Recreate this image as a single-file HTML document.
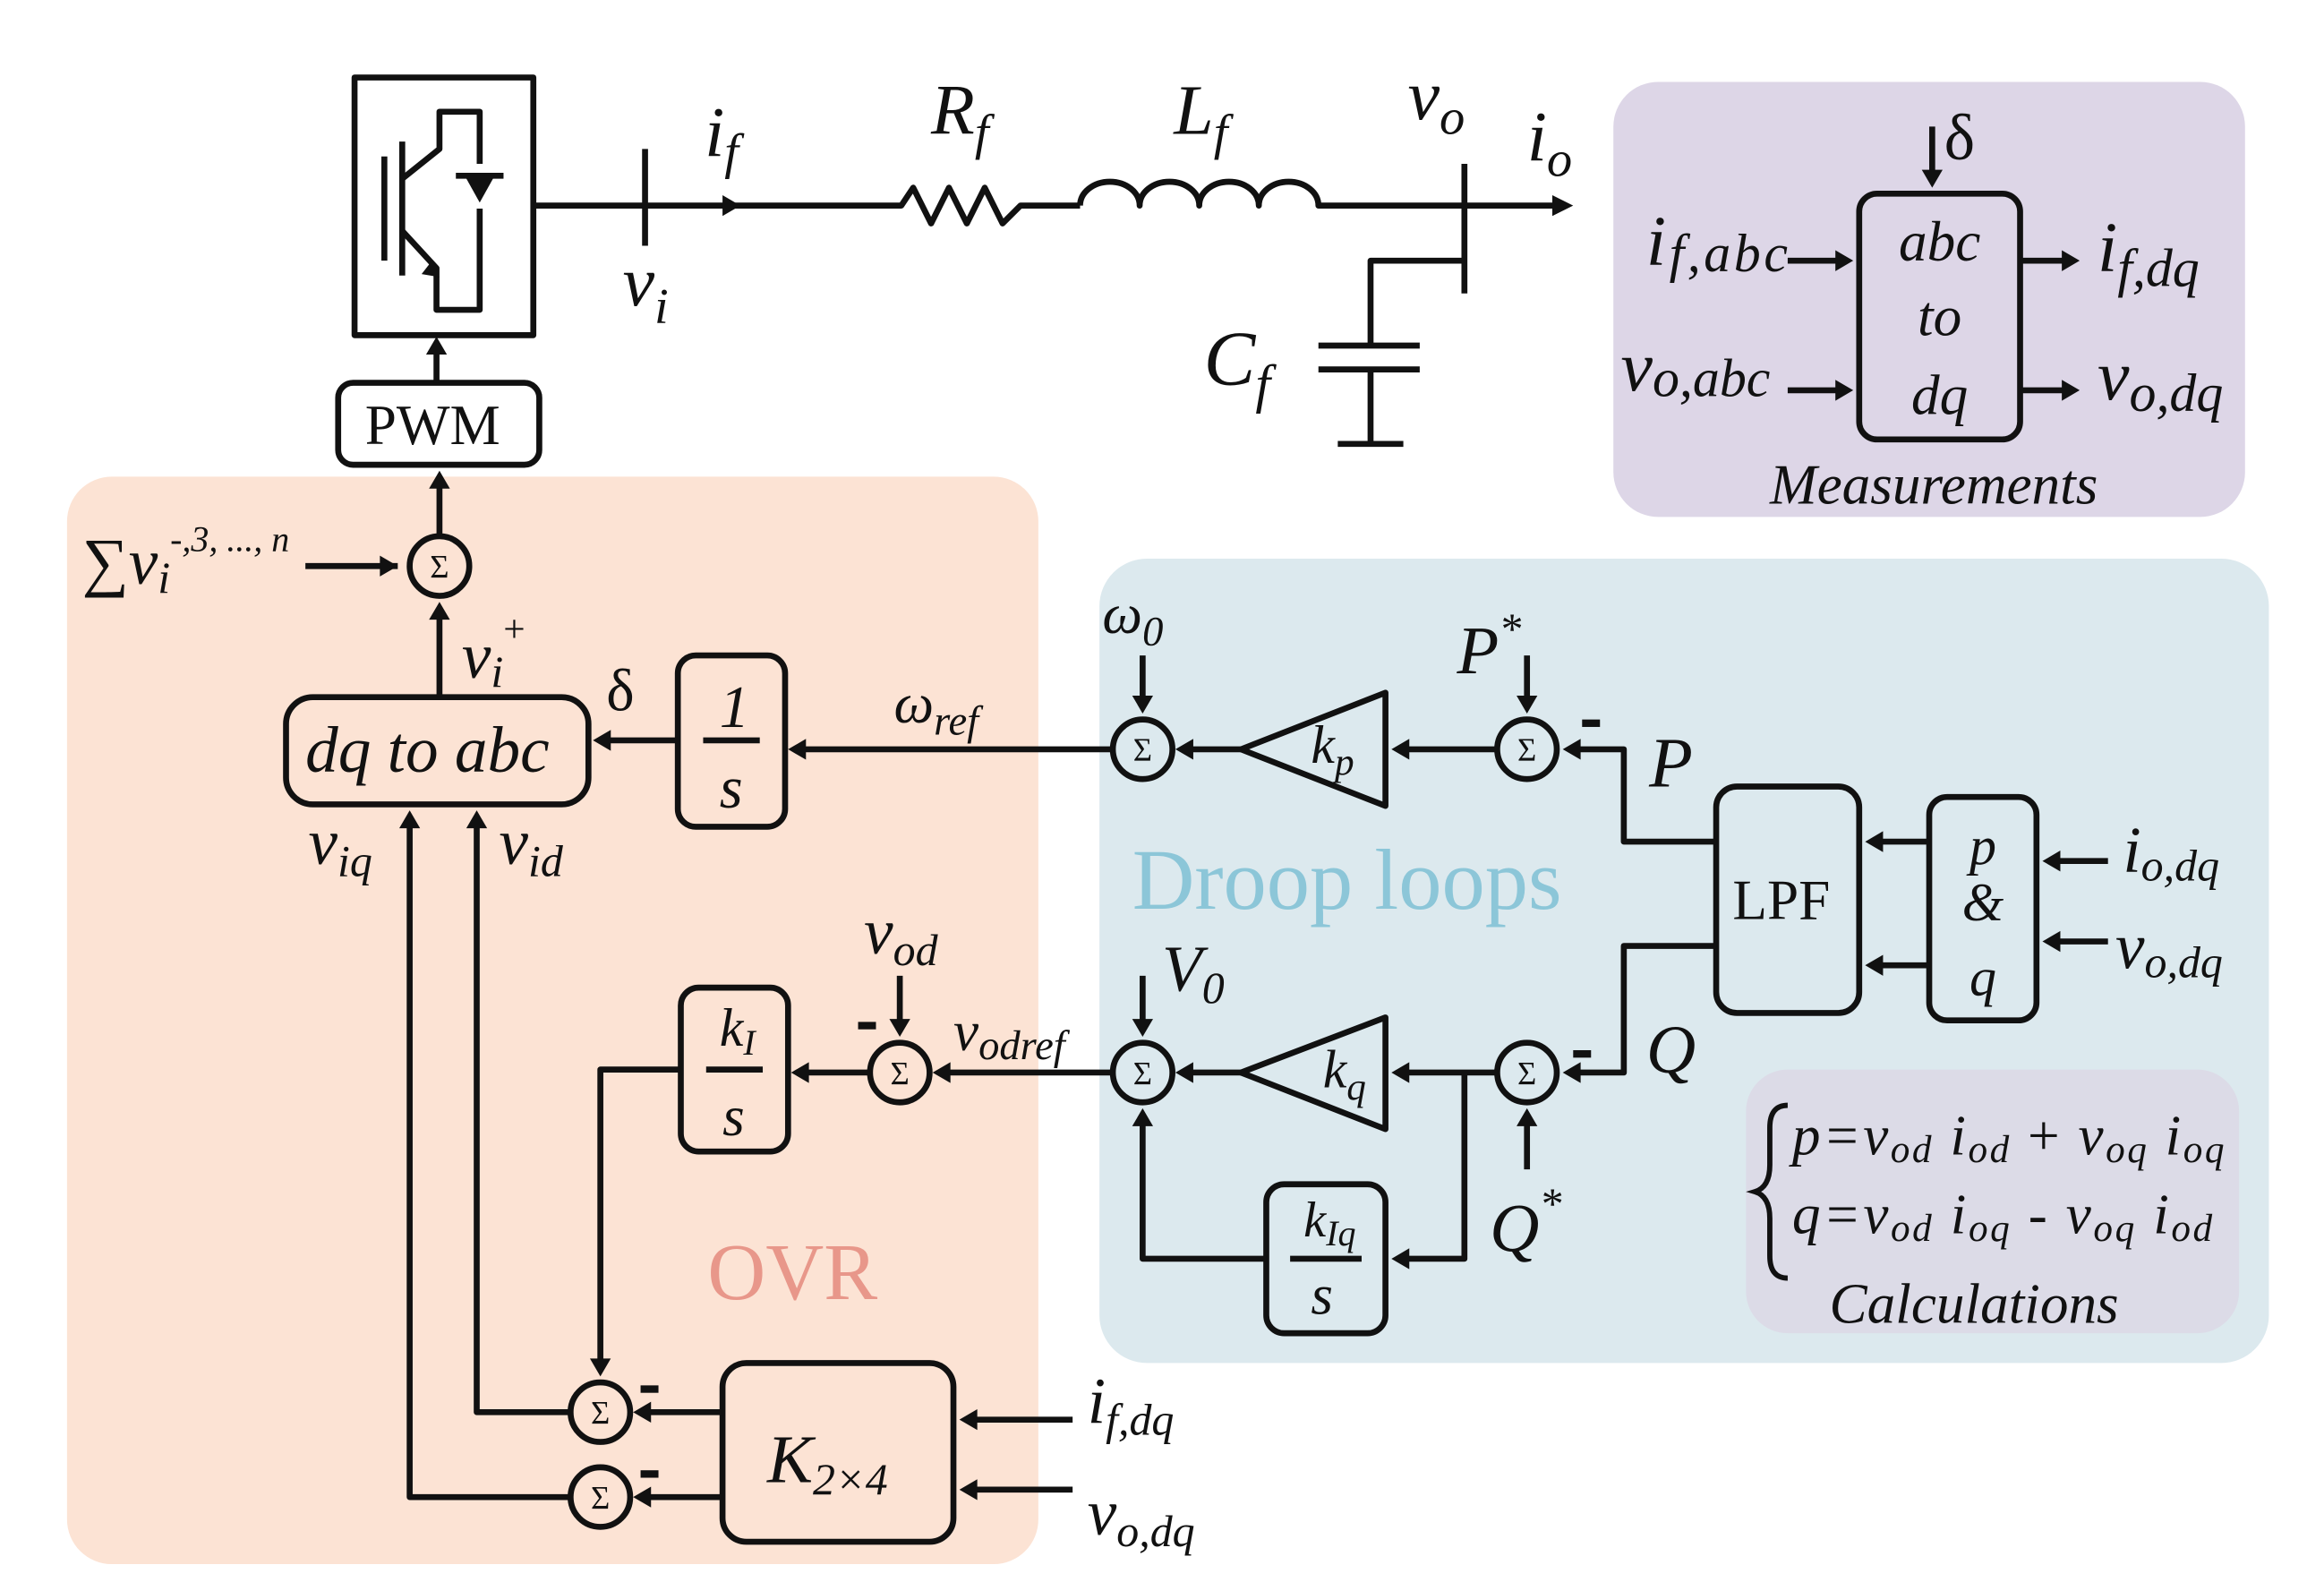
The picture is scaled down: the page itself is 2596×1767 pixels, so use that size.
<!DOCTYPE html>
<html><head><meta charset="utf-8"><style>
html,body{margin:0;padding:0;background:#fff}
svg{display:block}
text{font-family:"Liberation Serif",serif;fill:#111}
.i{font-style:italic}
</style></head><body>
<svg width="2596" height="1767" viewBox="0 0 1560 1062" preserveAspectRatio="none" xmlns="http://www.w3.org/2000/svg">
<!-- regions -->
<rect x="45" y="320" width="652" height="730" rx="30" fill="#fce3d4"/>
<rect x="738" y="375" width="785" height="540" rx="32" fill="#dce9ee"/>
<rect x="1083" y="55" width="424" height="292" rx="30" fill="#ddd6e7"/>
<rect x="1172" y="718" width="331" height="177" rx="28" fill="#dcdbe7"/>

<g stroke="#111" stroke-width="4" fill="none" stroke-linejoin="round">
<rect x="238" y="52" width="120" height="173"/>
<line x1="258" y1="105" x2="258" y2="175"/>
<line x1="270" y1="95" x2="270" y2="185"/>
<path d="M270,120 L295,100 L295,75 L322,75 L322,110"/>
<path d="M270,155 L293,180 L293,208 L322,208 L322,140"/>
<path d="M306,118 L338,118"/>
<rect x="227" y="257" width="135" height="55" rx="10"/>
<line x1="293" y1="257" x2="293" y2="232"/>
<path d="M358,138 L605,138 L613,126 L625,150 L637,126 L649,150 L661,126 L673,150 L685,138 L725,138"/>
<path d="M725,138 a20,16 0 0 1 40,0 a20,16 0 0 1 40,0 a20,16 0 0 1 40,0 a20,16 0 0 1 40,0 L985,138 L1045,138"/>
<line x1="433" y1="100" x2="433" y2="165"/>
<line x1="983" y1="110" x2="983" y2="197"/>
<path d="M983,175 L920,175 L920,232"/>
<line x1="885" y1="232" x2="953" y2="232"/>
<line x1="885" y1="248" x2="953" y2="248"/>
<path d="M920,248 L920,298"/>
<line x1="898" y1="298" x2="942" y2="298"/>
<rect x="1248" y="130" width="108" height="165" rx="12"/>
<line x1="1297" y1="85" x2="1297" y2="120"/>
<line x1="1200" y1="175" x2="1238" y2="175"/>
<line x1="1200" y1="262" x2="1238" y2="262"/>
<line x1="1356" y1="175" x2="1388" y2="175"/>
<line x1="1356" y1="262" x2="1388" y2="262"/>
<circle cx="295" cy="380" r="20"/>
<circle cx="767" cy="503" r="20"/>
<circle cx="1025" cy="503" r="20"/>
<circle cx="767" cy="720" r="20"/>
<circle cx="1025" cy="720" r="20"/>
<circle cx="604" cy="720" r="20"/>
<circle cx="403" cy="948" r="20"/>
<circle cx="403" cy="1005" r="20"/>
<rect x="192" y="468" width="203" height="72" rx="18"/>
<rect x="455" y="440" width="72" height="115" rx="12"/>
<line x1="472" y1="497" x2="510" y2="497"/>
<rect x="457" y="663" width="72" height="110" rx="12"/>
<line x1="474" y1="718" x2="512" y2="718"/>
<rect x="850" y="795" width="80" height="100" rx="12"/>
<line x1="866" y1="845" x2="914" y2="845"/>
<rect x="485" y="915" width="155" height="120" rx="16"/>
<rect x="1152" y="528" width="96" height="152" rx="14"/>
<rect x="1295" y="535" width="72" height="150" rx="12"/>
<path d="M833,503 L930,465 L930,541 Z"/>
<path d="M833,720 L930,683 L930,758 Z"/>
<line x1="295" y1="360" x2="295" y2="320"/>
<line x1="205" y1="380" x2="267" y2="380"/>
<line x1="295" y1="468" x2="295" y2="408"/>
<line x1="455" y1="497" x2="403" y2="497"/>
<line x1="747" y1="503" x2="535" y2="503"/>
<line x1="833" y1="503" x2="795" y2="503"/>
<line x1="1005" y1="503" x2="940" y2="503"/>
<line x1="767" y1="440" x2="767" y2="475"/>
<line x1="1025" y1="440" x2="1025" y2="475"/>
<path d="M1152,565 L1090,565 L1090,503 L1053,503"/>
<path d="M1152,635 L1090,635 L1090,720 L1053,720"/>
<line x1="1295" y1="565" x2="1258" y2="565"/>
<line x1="1295" y1="648" x2="1258" y2="648"/>
<line x1="1415" y1="578" x2="1377" y2="578"/>
<line x1="1415" y1="632" x2="1377" y2="632"/>
<line x1="1005" y1="720" x2="940" y2="720"/>
<line x1="833" y1="720" x2="795" y2="720"/>
<line x1="747" y1="720" x2="632" y2="720"/>
<line x1="584" y1="720" x2="537" y2="720"/>
<line x1="604" y1="655" x2="604" y2="692"/>
<line x1="767" y1="655" x2="767" y2="692"/>
<line x1="1025" y1="785" x2="1025" y2="748"/>
<path d="M983,720 L983,845 L940,845"/>
<path d="M850,845 L767,845 L767,748"/>
<path d="M457,718 L403,718 L403,920"/>
<line x1="485" y1="948" x2="431" y2="948"/>
<line x1="485" y1="1005" x2="431" y2="1005"/>
<line x1="720" y1="953" x2="650" y2="953"/>
<line x1="720" y1="1000" x2="650" y2="1000"/>
<path d="M383,948 L320,948 L320,550"/>
<path d="M383,1005 L275,1005 L275,550"/>
</g>
<g fill="#111">
<path d="M293,226 l-7,12 h14z"/>
<path d="M295,316 l-7,12 h14z"/>
<path d="M267,380 l-12,-7 v14z"/>
<path d="M295,404 l-7,12 h14z"/>
<path d="M398,497 l12,-7 v14z"/>
<path d="M529,503 l12,-7 v14z"/>
<path d="M789,503 l12,-7 v14z"/>
<path d="M934,503 l12,-7 v14z"/>
<path d="M767,479 l-7,-12 h14z"/>
<path d="M1025,479 l-7,-12 h14z"/>
<path d="M1049,503 l12,-7 v14z"/>
<path d="M1049,720 l12,-7 v14z"/>
<path d="M1252,565 l12,-7 v14z"/>
<path d="M1252,648 l12,-7 v14z"/>
<path d="M1371,578 l12,-7 v14z"/>
<path d="M1371,632 l12,-7 v14z"/>
<path d="M934,720 l12,-7 v14z"/>
<path d="M789,720 l12,-7 v14z"/>
<path d="M626,720 l12,-7 v14z"/>
<path d="M531,720 l12,-7 v14z"/>
<path d="M604,696 l-7,-12 h14z"/>
<path d="M767,696 l-7,-12 h14z"/>
<path d="M1025,744 l-7,12 h14z"/>
<path d="M767,744 l-7,12 h14z"/>
<path d="M934,845 l12,-7 v14z"/>
<path d="M403,924 l-7,-12 h14z"/>
<path d="M425,948 l12,-7 v14z"/>
<path d="M425,1005 l12,-7 v14z"/>
<path d="M644,953 l12,-7 v14z"/>
<path d="M644,1000 l12,-7 v14z"/>
<path d="M320,544 l-7,12 h14z"/>
<path d="M275,544 l-7,12 h14z"/>
<path d="M1297,126 l-7,-12 h14z"/>
<path d="M1244,175 l-12,-7 v14z"/>
<path d="M1244,262 l-12,-7 v14z"/>
<path d="M1396,175 l-12,-7 v14z"/>
<path d="M1396,262 l-12,-7 v14z"/>
<path d="M1056,138 l-14,-7 v14z"/>
<path d="M497,138 l-12,-7 v14z"/>
<path d="M322,136 l-10,-18 h20z"/>
<path d="M295,186 l-12,-2 l7,-9z"/>
<rect x="1062" y="483" width="12" height="5"/>
<rect x="1056" y="705" width="12" height="5"/>
<rect x="576" y="686" width="12" height="5"/>
<rect x="430" y="930" width="12" height="5"/>
<rect x="430" y="987" width="12" height="5"/>
</g>
<g font-size="22" text-anchor="middle">
<text x="295" y="388">Σ</text><text x="767" y="511">Σ</text><text x="1025" y="511">Σ</text>
<text x="767" y="728">Σ</text><text x="1025" y="728">Σ</text><text x="604" y="728">Σ</text>
<text x="403" y="956">Σ</text><text x="403" y="1013">Σ</text>
</g>
<text x="245" y="298" font-size="38">PWM</text>
<text class="i" x="473" y="105" font-size="48">i<tspan font-size="34" dy="8">f</tspan></text>
<text class="i" x="625" y="90" font-size="48">R<tspan font-size="34" dy="10">f</tspan></text>
<text class="i" x="788" y="90" font-size="48">L<tspan font-size="34" dy="10">f</tspan></text>
<text class="i" x="945" y="80" font-size="48">v<tspan font-size="34" dy="10">o</tspan></text>
<text class="i" x="1025" y="108" font-size="48">i<tspan font-size="34" dy="10">o</tspan></text>
<text class="i" x="418" y="205" font-size="48">v<tspan font-size="34" dy="12">i</tspan></text>
<text class="i" x="808" y="258" font-size="52">C<tspan font-size="36" dy="12">f</tspan></text>
<text x="1305" y="107" font-size="44">δ</text>
<text class="i" x="1105" y="178" font-size="48" textLength="95">i<tspan font-size="36" dy="4">f,abc</tspan></text>
<text class="i" x="1088" y="262" font-size="48">v<tspan font-size="36" dy="4">o,abc</tspan></text>
<text class="i" x="1408" y="182" font-size="48">i<tspan font-size="36" dy="10">f,dq</tspan></text>
<text class="i" x="1408" y="268" font-size="48">v<tspan font-size="36" dy="8">o,dq</tspan></text>
<g class="i" font-size="38" text-anchor="middle">
<text x="1302" y="175">abc</text><text x="1302" y="225">to</text><text x="1302" y="278">dq</text>
</g>
<text class="i" x="1188" y="338" font-size="38">Measurements</text>
<text class="i" x="55" y="392" font-size="44">∑v<tspan font-size="30" dy="6">i</tspan><tspan font-size="24" dy="-28">-,3, ..., n</tspan></text>
<text class="i" x="310" y="455" font-size="44">v<tspan font-size="30" dy="6">i</tspan><tspan font-size="26" dy="-30" font-style="normal">+</tspan></text>
<text x="407" y="477" font-size="40">δ</text>
<text class="i" x="205" y="518" font-size="44">dq to abc</text>
<text class="i" x="483" y="488" font-size="40">1</text>
<text class="i" x="483" y="542" font-size="40">s</text>
<text class="i" x="600" y="485" font-size="38">ω<tspan font-size="28" dy="8">ref</tspan></text>
<text class="i" x="740" y="425" font-size="38">ω<tspan font-size="28" dy="8">0</tspan></text>
<text class="i" x="978" y="452" font-size="46">P<tspan font-size="30" dy="-20">*</tspan></text>
<text class="i" x="1107" y="528" font-size="48">P</text>
<text class="i" x="880" y="512" font-size="36">k<tspan font-size="26" dy="8">p</tspan></text>
<text class="i" x="888" y="730" font-size="36">k<tspan font-size="26" dy="8">q</tspan></text>
<text x="760" y="610" font-size="58" style="fill:#8cc6d8">Droop loops</text>
<text x="1163" y="617" font-size="38">LPF</text>
<g class="i" font-size="36" text-anchor="middle"><text x="1331" y="580">p</text><text x="1331" y="618">&amp;</text><text x="1331" y="668">q</text></g>
<text class="i" x="1425" y="585" font-size="44">i<tspan font-size="30" dy="6">o,dq</tspan></text>
<text class="i" x="1420" y="650" font-size="44">v<tspan font-size="30" dy="6">o,dq</tspan></text>
<text class="i" x="207" y="580" font-size="44">v<tspan font-size="30" dy="8">iq</tspan></text>
<text class="i" x="335" y="580" font-size="44">v<tspan font-size="30" dy="8">id</tspan></text>
<text class="i" x="580" y="640" font-size="44">v<tspan font-size="30" dy="8">od</tspan></text>
<text class="i" x="780" y="665" font-size="44">V<tspan font-size="30" dy="8">0</tspan></text>
<text class="i" x="640" y="705" font-size="38">v<tspan font-size="28" dy="6">odref</tspan></text>
<text class="i" x="1105" y="720" font-size="46">Q</text>
<text class="i" x="1000" y="840" font-size="46">Q<tspan font-size="30" dy="-22">*</tspan></text>
<text class="i" x="483" y="702" font-size="36">k<tspan font-size="24" dy="6">I</tspan></text>
<text class="i" x="485" y="762" font-size="38">s</text>
<text class="i" x="875" y="830" font-size="34">k<tspan font-size="24" dy="6">Iq</tspan></text>
<text class="i" x="880" y="882" font-size="38">s</text>
<text x="475" y="872" font-size="54" style="fill:#e8978a">OVR</text>
<text class="i" x="515" y="995" font-size="46">K<tspan font-size="30" dy="8">2×4</tspan></text>
<text class="i" x="730" y="955" font-size="44">i<tspan font-size="30" dy="8">f,dq</tspan></text>
<text class="i" x="730" y="1030" font-size="44">v<tspan font-size="30" dy="8">o,dq</tspan></text>
<path d="M1200,742 q-12,0 -12,15 v25 q0,15 -10,18 q10,3 10,18 v25 q0,15 12,15" stroke="#111" stroke-width="3.5" fill="none"/>
<text class="i" x="1203" y="775" font-size="38" textLength="290">p=v<tspan font-size="26" dy="5">od</tspan><tspan dy="-5"> i</tspan><tspan font-size="26" dy="5">od</tspan><tspan dy="-5" font-style="normal"> + </tspan>v<tspan font-size="26" dy="5">oq</tspan><tspan dy="-5"> i</tspan><tspan font-size="26" dy="5">oq</tspan></text>
<text class="i" x="1203" y="828" font-size="38" textLength="282">q=v<tspan font-size="26" dy="5">od</tspan><tspan dy="-5"> i</tspan><tspan font-size="26" dy="5">oq</tspan><tspan dy="-5" font-style="normal"> - </tspan>v<tspan font-size="26" dy="5">oq</tspan><tspan dy="-5"> i</tspan><tspan font-size="26" dy="5">od</tspan></text>
<text class="i" x="1228" y="888" font-size="38">Calculations</text>
</svg>
</body></html>
